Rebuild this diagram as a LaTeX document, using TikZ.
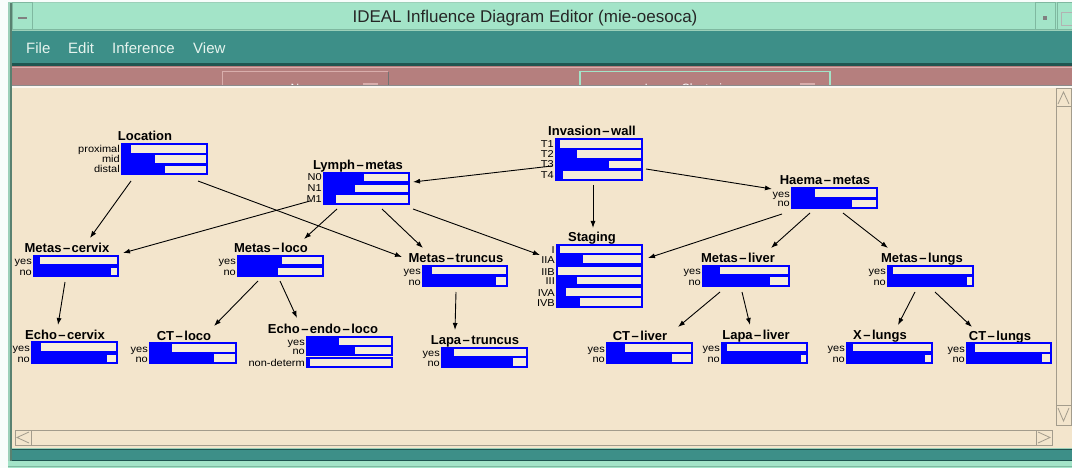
\documentclass[tikz,border=0pt]{standalone}
\usepackage{fontspec}
\setmainfont{Liberation Sans}
\newfontfamily\lblfont[FakeStretch=1.1]{Liberation Sans}
\usetikzlibrary{arrows.meta}
\definecolor{mint}{HTML}{A3E4C8}
\definecolor{mintdark}{HTML}{7FB8A0}
\definecolor{tealbar}{HTML}{3D8F88}
\definecolor{tealdark}{HTML}{1F5550}
\definecolor{rose}{HTML}{B57F7E}
\definecolor{roselight}{HTML}{D9AEAC}
\definecolor{cream}{HTML}{F3E5CC}
\definecolor{barbg}{HTML}{F6ECDA}
\definecolor{pureblue}{HTML}{0000FF}
\definecolor{sbgrey}{HTML}{A39C8C}
\definecolor{menutext}{HTML}{E6F4EE}
\tikzset{
  vtitle/.style={font=\bfseries\fontsize{13}{13}\selectfont, inner sep=0pt, anchor=base},
  slabel/.style={font=\lblfont\fontsize{10}{10}\selectfont, inner sep=0pt, anchor=base east},
  arr/.style={-{Latex[length=7pt,width=5pt]}, line width=0.9pt, black},
  barline/.style={draw=pureblue, line width=1.1pt},
  menu/.style={font=\fontsize{15}{15}\selectfont, text=menutext, inner sep=0pt, anchor=base west},
  sbframe/.style={draw=sbgrey, line width=1pt},
}
\newcommand\hy{\kern1.5pt\textendash\kern1.5pt}
\newcommand\vbars[3]{\foreach \ya/\yb/\fr/\lab in {#3}{
  \fill[barbg] (#1,\ya) rectangle (#2,\yb);
  \fill[pureblue] (#1,\ya) rectangle ({#1+(#2-#1)*\fr},\yb);
  \draw[barline] (#1,\ya) rectangle (#2,\yb);
  \node[slabel] at ({#1-2},{\yb-1}) {\lab};
}}
\begin{document}
\begin{tikzpicture}[x=1pt,y=-1pt]
\useasboundingbox (0,0) rectangle (1072,468);
% ---------- window frame ----------
\fill[white!92!mint] (0,0) rectangle (1072,468);
\fill[mint!80!gray] (8,2) rectangle (1072,468);
% title bar
\fill[mint] (12,3) rectangle (1072,30);
\draw[mintdark, line width=1pt] (12,30) -- (1072,30);
\draw[mintdark, line width=1pt] (12,3) rectangle (32,30);
\draw[gray, line width=1.2pt] (18,18) -- (27,18);
\draw[mintdark, line width=1pt] (1035,3) rectangle (1055,30);
\fill[gray] (1043,16) rectangle (1047,20);
\draw[mintdark, line width=1pt] (1057,3) rectangle (1072,30);
\draw[gray!60, line width=0.8pt] (1061,12) rectangle (1072,25);
\node[font=\fontsize{17}{17}\selectfont, text=black!85, inner sep=0pt] (wtitle) at (525,18) {IDEAL Influence Diagram Editor (mie-oesoca)};
% menu bar
\fill[tealbar] (12,31) rectangle (1072,64);
\fill[tealdark] (12,63) rectangle (1072,66);
\node[menu] (mfile) at (26,53.5) {File};
\node[menu] (medit) at (68,53.5) {Edit};
\node[menu] (minf) at (112,53.5) {Inference};
\node[menu] (mview) at (193,53.5) {View};
% toolbar
\fill[rose] (12,66) rectangle (1072,86);
\draw[roselight, line width=1pt] (12,68) -- (1072,68);
\draw[roselight, line width=1pt] (222,85) -- (222,72) -- (388,72);
\draw[black!55, line width=1pt] (388,72) -- (388,85);
\draw[mint, line width=1.2pt] (580,85) -- (580,71.5) -- (830,71.5) -- (830,85);
\begin{scope}
  \clip (200,70) rectangle (850,85);
  \node[font=\fontsize{12}{12}\selectfont, text=white, inner sep=0pt, anchor=base] (tb1) at (305,93) {None};
  \node[font=\fontsize{12}{12}\selectfont, text=white, inner sep=0pt, anchor=base] (tb2) at (690,93) {Image Clustering};
\end{scope}
\fill[roselight] (363,83) rectangle (378,85);
\fill[roselight] (800,83) rectangle (815,85);
% canvas
\fill[cream] (12,86) rectangle (1072,448);
\draw[white!70!cream, line width=1.5pt] (12,87) -- (1072,87);
\draw[black!45, line width=1pt] (12,86) -- (1072,86);
\draw[mintdark!70!black, line width=2pt] (11,3) -- (11,468);
% vertical scrollbar
\draw[sbframe] (1056,89) rectangle (1071,425);
\draw[sbframe] (1056,107) -- (1071,107);
\draw[sbframe] (1056,405) -- (1071,405);
\draw[sbgrey, line width=0.8pt] (1058,104) -- (1063.5,92) -- (1069,104);
\draw[sbgrey, line width=0.8pt] (1058,408) -- (1063.5,421) -- (1069,408);
% horizontal scrollbar
\draw[sbframe] (15,430) rectangle (1052,445);
\draw[sbframe] (31,430) -- (31,445);
\draw[sbframe] (1036,430) -- (1036,445);
\draw[sbgrey, line width=0.8pt] (29,432) -- (17,437.5) -- (29,443);
\draw[sbgrey, line width=0.8pt] (1038,432) -- (1050,437.5) -- (1038,443);
% bottom bars
\fill[tealbar] (12,449) rectangle (1072,460);
\draw[tealdark, line width=1pt] (12,449.5) -- (1072,449.5);
\draw[tealdark, line width=1pt] (12,460) -- (1072,460);
\fill[mint] (8,461) rectangle (1072,468);
\draw[mintdark, line width=1pt] (8,466) -- (1072,466);
% ---------- variables ----------
\node[vtitle] (loc) at (145,140.5) {Location};
\vbars{122}{207}{144/154/0.10/proximal, 154/164/0.39/mid, 165/174/0.50/distal}
\node[vtitle] (lymph) at (358,169.5) {Lymph\hy metas};
\vbars{324}{409}{173/182/0.47/N0, 184/193/0.36/N1, 194/204/0.14/M1}
\node[vtitle] (inv) at (592,135.5) {Invasion\hy wall};
\vbars{556}{642}{139/149/0.05/T1, 149/159/0.24/T2, 160/169/0.62/T3, 170/180/0.08/T4}
\node[vtitle] (haema) at (825,184.5) {Haema\hy metas};
\vbars{792}{877}{188/198/0.27/yes, 199/208/0.71/no}
\node[vtitle] (cerv) at (67,252.5) {Metas\hy cervix};
\vbars{34}{118}{256/265/0.07/yes, 267/276/0.92/no}
\node[vtitle] (loco) at (271,252.5) {Metas\hy loco};
\vbars{238}{323}{256/265/0.52/yes, 267/276/0.47/no}
\node[vtitle] (trunc) at (456,262.5) {Metas\hy truncus};
\vbars{423}{507}{266/275/0.11/yes, 276/286/0.87/no}
\node[vtitle] (stag) at (592,241.5) {Staging};
\vbars{557}{642}{245/254/0.04/I, 254/264/0.31/IIA, 266/276/0.01/IIB, 276/285/0.24/III, 287/297/0.10/IVA, 297/307/0.27/IVB}
\node[vtitle] (liver) at (738,262.5) {Metas\hy liver};
\vbars{703}{789}{266/275/0.20/yes, 276/286/0.78/no}
\node[vtitle] (lungs) at (922,262.5) {Metas\hy lungs};
\vbars{888}{973}{266/275/0.06/yes, 276/286/0.93/no}
\node[vtitle] (echoc) at (65,339.5) {Echo\hy cervix};
\vbars{32}{117}{342/352/0.11/yes, 354/363/0.88/no}
\node[vtitle] (ctloco) at (184,340.5) {CT\hy loco};
\vbars{150}{236}{343/353/0.25/yes, 353/363/0.74/no}
\node[vtitle] (echoendo) at (323,333.5) {Echo\hy endo\hy loco};
\vbars{307}{392}{337/346/0.38/yes, 346/355/0.56/no, 358/367/0.03/non-determ}
\node[vtitle] (lapat) at (475,344.5) {Lapa\hy truncus};
\vbars{442}{527}{348/357/0.14/yes, 357/367/0.84/no}
\node[vtitle] (ctliver) at (640,340.5) {CT\hy liver};
\vbars{607}{692}{343/353/0.21/yes, 353/363/0.77/no}
\node[vtitle] (lapaliver) at (756,339.5) {Lapa\hy liver};
\vbars{722}{807}{343/352/0.06/yes, 354/363/0.93/no}
\node[vtitle] (xlungs) at (880,339.5) {X\hy lungs};
\vbars{847}{932}{343/352/0.07/yes, 354/363/0.92/no}
\node[vtitle] (ctlungs) at (1000,340.5) {CT\hy lungs};
\vbars{967}{1051}{343/353/0.10/yes, 353/363/0.89/no}
% ---------- connector end points ----------
\coordinate (loc-o1) at (131,181);   \coordinate (cerv-i1) at (90,238);
\coordinate (loc-o2) at (198,181);   \coordinate (trunc-i1) at (402,257);
\coordinate (lymph-o1) at (310,201); \coordinate (cerv-i2) at (123,253);
\coordinate (lymph-o2) at (337,209); \coordinate (loco-i) at (304,239);
\coordinate (lymph-o3) at (382,209); \coordinate (trunc-i2) at (423,248);
\coordinate (lymph-o4) at (413,209); \coordinate (stag-i1) at (540,255);
\coordinate (inv-o1) at (552,166);   \coordinate (lymph-i) at (413,182);
\coordinate (inv-o2) at (646,169);   \coordinate (haema-i) at (772,189);
\coordinate (inv-o3) at (593,185);   \coordinate (stag-i2) at (593,228);
\coordinate (haema-o1) at (782,214); \coordinate (stag-i3) at (648,258);
\coordinate (haema-o2) at (810,213); \coordinate (liver-i) at (771,248);
\coordinate (haema-o3) at (843,213); \coordinate (lungs-i) at (888,248);
\coordinate (cerv-o) at (65,282);    \coordinate (echoc-i) at (58,325);
\coordinate (loco-o1) at (258,281);  \coordinate (ctloco-i) at (214,326);
\coordinate (loco-o2) at (280,281);  \coordinate (echoendo-i) at (297,318);
\coordinate (trunc-o) at (456,292);  \coordinate (lapat-i) at (455,330);
\coordinate (liver-o1) at (720,292); \coordinate (ctliver-i) at (678,327);
\coordinate (liver-o2) at (742,292); \coordinate (lapaliver-i) at (750,325);
\coordinate (lungs-o1) at (915,292); \coordinate (xlungs-i) at (898,325);
\coordinate (lungs-o2) at (935,292); \coordinate (ctlungs-i) at (972,327);
% ---------- connectors ----------
\draw[arr] (loc-o1) -- (cerv-i1);
\draw[arr] (loc-o2) -- (trunc-i1);
\draw[arr] (lymph-o1) -- (cerv-i2);
\draw[arr] (lymph-o2) -- (loco-i);
\draw[arr] (lymph-o3) -- (trunc-i2);
\draw[arr] (lymph-o4) -- (stag-i1);
\draw[arr] (inv-o1) -- (lymph-i);
\draw[arr] (inv-o2) -- (haema-i);
\draw[arr] (inv-o3) -- (stag-i2);
\draw[arr] (haema-o1) -- (stag-i3);
\draw[arr] (haema-o2) -- (liver-i);
\draw[arr] (haema-o3) -- (lungs-i);
\draw[arr] (cerv-o) -- (echoc-i);
\draw[arr] (loco-o1) -- (ctloco-i);
\draw[arr] (loco-o2) -- (echoendo-i);
\draw[arr] (trunc-o) -- (lapat-i);
\draw[arr] (liver-o1) -- (ctliver-i);
\draw[arr] (liver-o2) -- (lapaliver-i);
\draw[arr] (lungs-o1) -- (xlungs-i);
\draw[arr] (lungs-o2) -- (ctlungs-i);
\end{tikzpicture}
\end{document}
